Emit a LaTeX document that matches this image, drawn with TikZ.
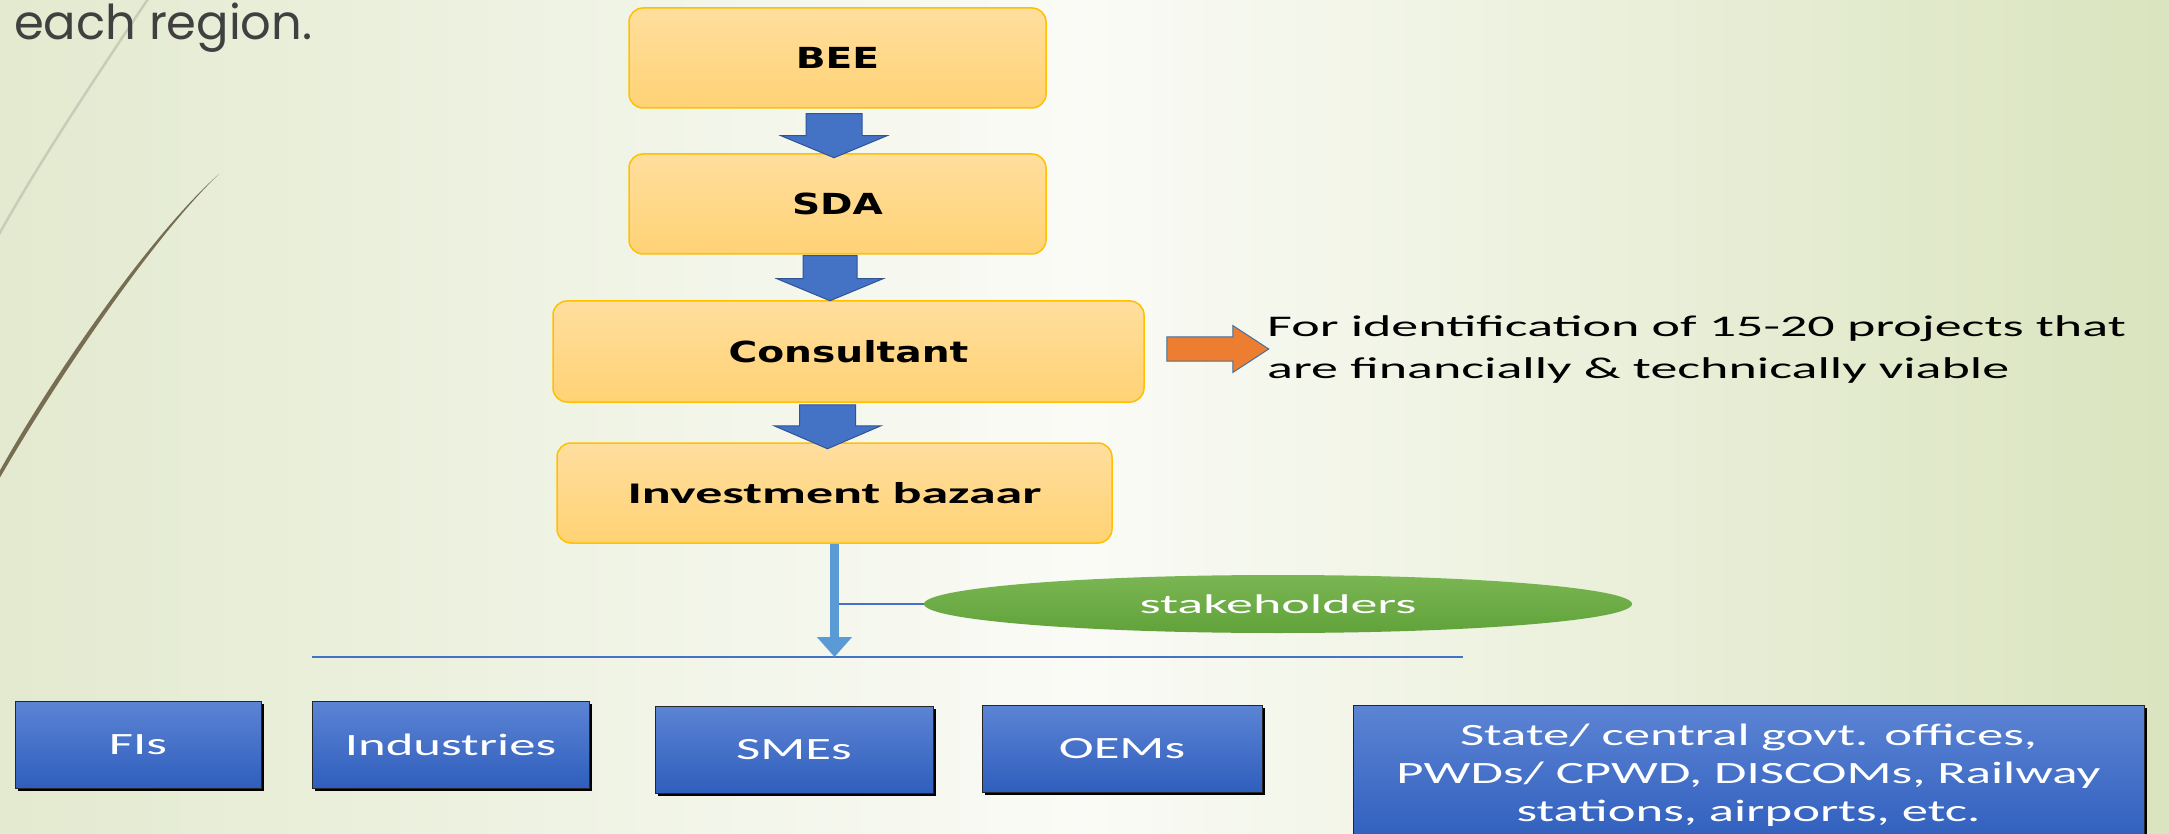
\documentclass[tikz,border=0pt]{standalone}
\usepackage{fontspec}
\setmainfont{Carlito}
\newfontfamily\fvb[FakeStretch=1.35]{DejaVu Sans}
\newfontfamily\fcalA[FakeStretch=1.8]{Carlito}
\newfontfamily\fcalS[FakeStretch=2.0]{Carlito}
\newfontfamily\fcalB[FakeStretch=1.7]{Carlito}
\newfontfamily\fgot{Poppins}
\usetikzlibrary{shapes.geometric,arrows.meta,calc,shadows}

\definecolor{bgL}{HTML}{E3EACF}
\definecolor{bgM}{HTML}{FAFBF6}
\definecolor{bgR}{HTML}{DAE4BE}
\definecolor{yelT}{HTML}{FFDE9E}
\definecolor{yelB}{HTML}{FFD274}
\definecolor{yelD}{HTML}{FFC000}
\definecolor{arrB}{HTML}{4472C4}
\definecolor{arrBD}{HTML}{2F5597}
\definecolor{boxT}{HTML}{5C84D4}
\definecolor{boxB}{HTML}{2F5EBD}
\definecolor{grnT}{HTML}{7AB653}
\definecolor{grnB}{HTML}{61A23A}
\definecolor{orA}{HTML}{ED7D31}
\definecolor{orD}{HTML}{41719C}
\definecolor{lnB}{HTML}{5B9BD5}
\definecolor{curL}{HTML}{C9CDB7}
\definecolor{curD}{HTML}{776D52}
\definecolor{txG}{HTML}{404040}

% #1 top-centre coordinate name, #2 half shaft, #3 half head, #4 shaft length, #5 head length, #6 style
\newcommand{\blkarrowdown}[6]{%
  \draw[#6] ([xshift=-#2pt]#1) -- ++(2*#2,0) -- ++(0,#4) -- ++(#3-#2,0)
    -- ++(-#3,#5) -- ++(-#3,-#5) -- ++(#3-#2,0) -- cycle;}

\tikzset{
  ybox/.style={rectangle, rounded corners=14pt, draw=yelD, line width=1.5pt,
    top color=yelT, bottom color=yelB, inner sep=0pt},
  vbfont/.style={font=\fvb\bfseries\fontsize{29}{35}\selectfont},
  bbox/.style={rectangle, draw=black!85, line width=1pt, top color=boxT, bottom color=boxB,
    text=white, font=\fcalB\fontsize{31}{38}\selectfont, align=center, inner sep=0pt,
    drop shadow={shadow xshift=2.5pt, shadow yshift=-3pt, fill=black, opacity=1}},
  barrow/.style={fill=arrB, draw=arrBD, line width=1pt},
  oarrow/.style={fill=orA, draw=orD, line width=1pt},
  thinb/.style={draw=arrB, line width=1.2pt},
  vline/.style={draw=lnB, line width=9pt, -{Triangle[width=34pt,length=20pt]}},
}

\begin{document}
\begin{tikzpicture}[x=1pt, y=-1pt]
\useasboundingbox (0,0) rectangle (2169,834);
\clip (0,0) rectangle (2169,834);
\shade[left color=bgL, right color=bgR, middle color=bgM] (0,0) rectangle (2169,834);

% decorative curves
\draw[curL, line width=2.5pt] (150,-4) .. controls (102,68) and (40,160) .. (-3,238);
\fill[curD] (219,174) .. controls (150,235) and (50,380) .. (-2,474)
   -- (-2,481) .. controls (52,387) and (152,238) .. (219,174) -- cycle;

\node[anchor=base west, inner sep=0pt, text=txG, font=\fgot\fontsize{48}{56}\selectfont] (head) at (14,40) {each region.};

% flow boxes
\node[ybox, vbfont, minimum width=417pt, minimum height=100pt] (bee) at (837.5,58) {BEE};
\node[ybox, vbfont, minimum width=417pt, minimum height=100pt] (sda) at (837.5,204) {SDA};
\node[ybox, vbfont, minimum width=591pt, minimum height=101pt] (cons) at (848.5,351.5) {Consultant};
\node[ybox, font=\fcalA\bfseries\fontsize{30}{36}\selectfont, minimum width=555pt, minimum height=100pt] (inv) at (834.5,493) {Investment bazaar};

% block arrows
\coordinate (a1) at ($(bee.south)+(-3.5,5)$);
\blkarrowdown{a1}{28}{53}{22}{22}{barrow}
\coordinate (a2) at ($(sda.south)+(-7.5,1)$);
\blkarrowdown{a2}{27}{53}{23}{22}{barrow}
\coordinate (a3) at ($(cons.south)+(-21,2)$);
\blkarrowdown{a3}{28}{53.5}{21}{23}{barrow}

% note with orange arrow
\node[anchor=base west, inner sep=0pt, font=\fcalA\fontsize{30}{42}\selectfont] (note) at (1267,337)
  {\begin{tabular}[t]{@{}l@{}}For identification of 15-20 projects that\\ are financially \& technically viable\end{tabular}};
\coordinate (o1) at ($(cons.east)+(22,-2.5)$);
\draw[oarrow] ([yshift=12pt]o1) -- ++(66,0) -- ++(0,-11.5) -- ++(36,23.5) -- ++(-36,23.5)
   -- ++(0,-11.5) -- ++(-66,0) -- cycle;

% stakeholders
\coordinate (hl1) at (312,657);
\coordinate (hl2) at (1463,657);
\node[ellipse, minimum width=708pt, minimum height=58pt, inner sep=0pt, top color=grnT, bottom color=grnB,
  text=white, font=\fcalS\fontsize{27}{32}\selectfont] (stake) at (1278,604) {stakeholders};
\draw[thinb] (hl1) -- (hl2);
\draw[thinb] (inv.south |- stake.west) -- (stake.west);
\draw[vline] (inv.south) -- (inv.south |- hl1);

% bottom boxes
\node[bbox, minimum width=246pt, minimum height=87pt] (fis) at (138,744.5) {FIs};
\node[bbox, minimum width=277pt, minimum height=87pt] (ind) at (450.5,744.5) {Industries};
\node[bbox, minimum width=278pt, minimum height=87pt] (smes) at (794,749.5) {SMEs};
\node[bbox, minimum width=280pt, minimum height=87pt] (oems) at (1122,748.5) {OEMs};
\node[bbox, minimum width=791pt, minimum height=140pt] (state) at (1748.5,775)
  {State/ central govt. offices,\\PWDs/ CPWD, DISCOMs, Railway\\stations, airports, etc.};
\end{tikzpicture}
\end{document}
